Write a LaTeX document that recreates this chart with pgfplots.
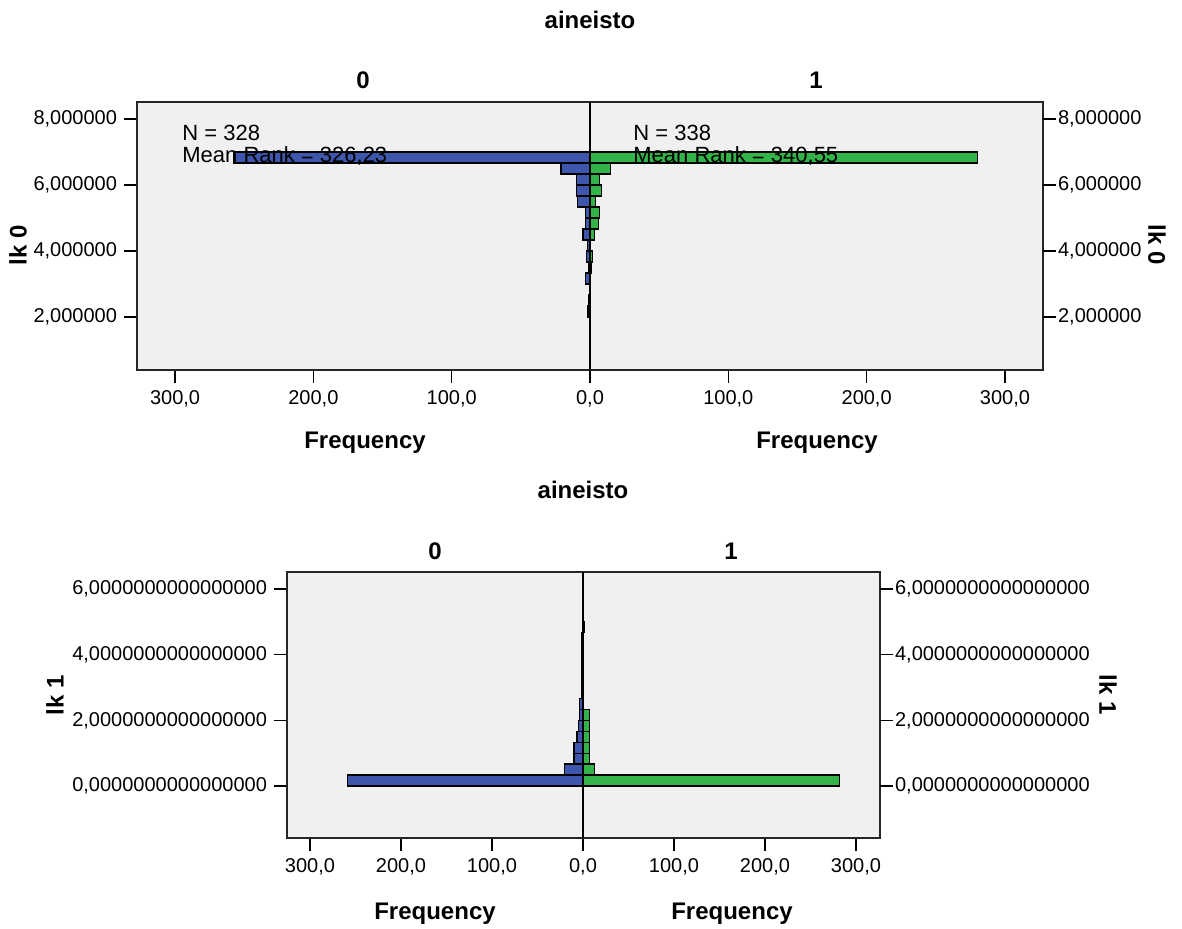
\documentclass[border=0pt]{standalone}
\usepackage{pgfplots}
\pgfplotsset{compat=1.18}
\usepackage{fontspec}
\setmainfont{Liberation Sans}
\definecolor{spssblue}{RGB}{62,87,172}
\definecolor{spssgreen}{RGB}{50,180,72}
\definecolor{plotbg}{RGB}{240,240,240}

\pgfplotstableread{
y f
6.8333 -258
6.5 -21
6.1667 -10
5.8333 -10
5.5 -9
5.1667 -3
4.8333 -3
4.5 -5
4.1667 -2
3.8333 -2.4
3.5 -1
3.1667 -3
2.5 -1
2.1667 -1.5
}\topblue
\pgfplotstableread{
y f
6.8333 280
6.5 15
6.1667 7
5.8333 8.5
5.5 4
5.1667 7
4.8333 6
4.5 3
3.8333 2
3.5 1
}\topgreen
\pgfplotstableread{
y f
0.1667 -259
0.5 -20.5
0.8333 -10
1.1667 -10
1.5 -6.6
1.8333 -4.8
2.1667 -3.7
2.5 -3.7
2.8333 -2
3.1667 -1.2
3.5 -2
3.8333 -1.2
4.1667 -1.2
4.5 -1
}\botblue
\pgfplotstableread{
y f
0.1667 282
0.5 13
0.8333 7
1.1667 7
1.5 7
1.8333 7
2.1667 7
4.8333 2
}\botgreen

\pgfplotsset{
  pyr/.style={
    scale only axis, anchor=south west,
    axis line style={line width=0.8pt, black!85},
    tick style={black, line width=0.6pt},
    major tick length=6.5pt, tick align=outside,
    xtick pos=bottom, ytick pos=left,
    tick label style={font=\fontsize{10}{12}\selectfont},
    xtick={-300,-200,-100,0,100,200,300},
    xticklabels={{300,0},{200,0},{100,0},{0,0},{100,0},{200,0},{300,0}},
    xbar, bar width=0.3333, bar shift=0pt,
    clip=true,
  },
  pyrright/.style={
    scale only axis, anchor=south west,
    hide x axis, axis line style={draw=none},
    tick style={black, line width=0.6pt},
    major tick length=6.5pt, tick align=outside,
    ytick pos=right, yticklabel pos=right,
    tick label style={font=\fontsize{10}{12}\selectfont},
    yticklabel style={xshift=-2.5pt},
  },
  bluebar/.style={fill=spssblue, draw=black, line width=0.6pt},
  greenbar/.style={fill=spssgreen, draw=black, line width=0.6pt},
}

\begin{document}
\begin{tikzpicture}[x=0.5pt,y=0.5pt]
\useasboundingbox (0,0) rectangle (1182,928);

% ---------- top chart ----------
\begin{axis}[pyr, at={(68.5pt,279pt)}, width=453pt, height=134pt,
  xmin=-327.5, xmax=327.5, ymin=0.394, ymax=8.515,
  axis background/.style={fill=plotbg},
  ytick={2,4,6,8},
  yticklabels={{2,000000},{4,000000},{6,000000},{8,000000}}]
  \addplot[bluebar] table[x=f,y=y] {\topblue};
  \addplot[greenbar] table[x=f,y=y] {\topgreen};
  \draw[black, line width=0.8pt] (axis cs:0,0.394) -- (axis cs:0,8.515);
\end{axis}
\begin{axis}[pyrright, at={(68.5pt,279pt)}, width=453pt, height=134pt,
  xmin=-327.5, xmax=327.5, ymin=0.394, ymax=8.515,
  ytick={2,4,6,8},
  yticklabels={{2,000000},{4,000000},{6,000000},{8,000000}}]
  \addplot[draw=none] coordinates {(0,1)};
\end{axis}

\begin{scope}[every node/.style={anchor=west, inner sep=0pt, font=\fontsize{11}{13}\selectfont}]
\node at (182,795) {N = 328};
\node at (182,772) {Mean Rank = 326,23};
\node at (633,795) {N = 338};
\node at (633,772) {Mean Rank = 340,55};
\node at (330,325) {N = 328};
\node at (330,302) {Mean Rank = 340,77};
\node at (628,325) {N = 338};
\node at (628,302) {Mean Rank = 326,45};
\end{scope}

\begin{scope}[every node/.style={font=\bfseries\fontsize{12}{14}\selectfont}]
\node at (590,908) {aineisto};
\node at (363,848) {0};
\node at (816,848) {1};
\node at (365,485) {Frequency};
\node at (817,485) {Frequency};
\node[rotate=90] at (18,683) {lk 0};
\node[rotate=-90] at (1157,683) {lk 0};
\node at (583,438) {aineisto};
\node at (435,377) {0};
\node at (731,377) {1};
\node at (435,14) {Frequency};
\node at (732,14) {Frequency};
\node[rotate=90] at (55,233) {lk 1};
\node[rotate=-90] at (1108,233) {lk 1};
\end{scope}

% ---------- bottom chart ----------
\begin{axis}[pyr, at={(143.5pt,45pt)}, width=296.5pt, height=133pt,
  xmin=-325.3, xmax=326.4, ymin=-1.585, ymax=6.518,
  axis background/.style={fill=plotbg},
  ytick={0,2,4,6},
  yticklabels={{0,0000000000000000},{2,0000000000000000},{4,0000000000000000},{6,0000000000000000}}]
  \addplot[bluebar] table[x=f,y=y] {\botblue};
  \addplot[greenbar] table[x=f,y=y] {\botgreen};
  \draw[black, line width=0.8pt] (axis cs:0,-1.585) -- (axis cs:0,6.518);
\end{axis}
\begin{axis}[pyrright, at={(143.5pt,45pt)}, width=296.5pt, height=133pt,
  xmin=-325.3, xmax=326.4, ymin=-1.585, ymax=6.518,
  ytick={0,2,4,6},
  yticklabels={{0,0000000000000000},{2,0000000000000000},{4,0000000000000000},{6,0000000000000000}}]
  \addplot[draw=none] coordinates {(0,1)};
\end{axis}
\end{tikzpicture}
\end{document}
